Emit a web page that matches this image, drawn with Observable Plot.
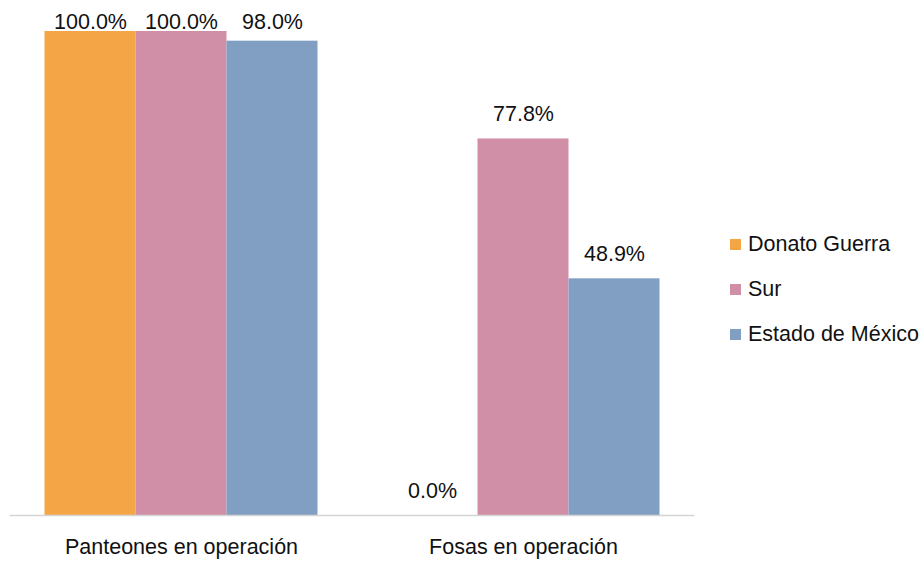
<!DOCTYPE html>
<html>
<head>
<meta charset="utf-8">
<script src="https://cdn.jsdelivr.net/npm/d3@7"></script>
<script src="https://cdn.jsdelivr.net/npm/@observablehq/plot@0.6"></script>
<style>
  html, body { margin: 0; padding: 0; background: #fff; }
  #chart { position: relative; width: 923px; height: 562px; font-family: "Liberation Sans", Arial, sans-serif; }
  #legend { position: absolute; left: 730px; top: 222px; font-size: 21.5px; color: #111; }
  #legend .row { display: flex; align-items: center; height: 45px; white-space: nowrap; }
  #legend .sw { width: 11px; height: 11px; margin-right: 7px; flex: none; }
</style>
</head>
<body>
<div id="chart"></div>
<script>
// Share of cemeteries and graves in operation, by area
const categories = ["Panteones en operación", "Fosas en operación"];
const series = ["Donato Guerra", "Sur", "Estado de México"];
const panteones = [100.0, 100.0, 98.0];
const fosas = [0.0, 77.8, 48.9];
const colors = ["#F4A647", "#D08FA6", "#809FC3"];

const rows = [];
[panteones, fosas].forEach((vals, i) => {
  vals.forEach((v, j) => rows.push({category: categories[i], series: series[j], value: v}));
});

const fmt = d3.format(".1f");

const plot = Plot.plot({
  width: 923,
  height: 562,
  marginLeft: 9.5,
  marginRight: 229.5,
  marginTop: 31,
  marginBottom: 47,
  style: {fontFamily: "Liberation Sans, Arial, sans-serif", fontSize: "21.5px", color: "#111", background: "#fff"},
  fx: {domain: categories, paddingInner: 0.2, paddingOuter: 0.1, axis: "bottom", tickSize: 0, tickPadding: 23, label: null},
  x: {domain: series, padding: 0, axis: null},
  y: {domain: [0, 100], axis: null},
  color: {domain: series, range: colors},
  marks: [
    Plot.barY(rows, {fx: "category", x: "series", y: "value", fill: "series"}),
    Plot.ruleY([0], {stroke: "#D4D4D4", strokeWidth: 1.5, insetLeft: -34.5, insetRight: -34.5}),
    Plot.text(rows, {
      fx: "category", x: "series",
      // labels sit above each bar, held inside the top of the frame
      y: d => Math.min(d.value, 96.9),
      text: d => fmt(d.value) + "%",
      dy: -18, lineAnchor: "bottom", fill: "#111", fontSize: 21.5
    })
  ]
});

const chart = document.getElementById("chart");
chart.appendChild(plot);

const legend = document.createElement("div");
legend.id = "legend";
const color = plot.scale("color");
series.forEach(s => {
  const row = document.createElement("div");
  row.className = "row";
  const sw = document.createElement("span");
  sw.className = "sw";
  sw.style.background = color.apply(s);
  const label = document.createElement("span");
  label.textContent = s;
  row.append(sw, label);
  legend.appendChild(row);
});
chart.appendChild(legend);
</script>
</body>
</html>
